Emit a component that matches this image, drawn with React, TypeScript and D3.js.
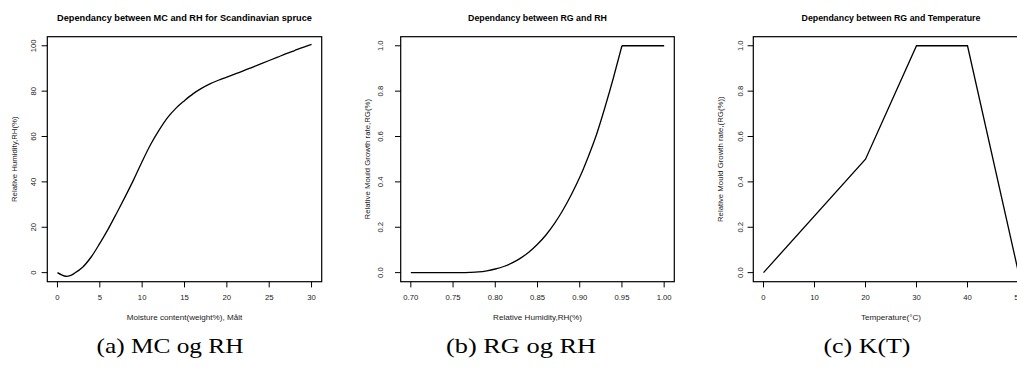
import React from "react";
import * as d3 from "d3";

// Panel (a): moisture content vs relative humidity
const mcValues = [0, 0.5, 1, 1.5, 2, 3, 4, 5, 6, 7, 8, 9, 10, 11, 12, 13, 14, 15, 16, 17, 18, 19, 20, 21, 22, 23, 24, 25, 26, 27, 28, 29, 30];
const rhValues = [0, -1.0, -1.6, -1.3, -0.3, 2.5, 7.0, 12.9, 19.3, 26.3, 33.5, 41.0, 49.0, 56.5, 62.8, 68.3, 72.5, 75.8, 78.8, 81.2, 83.2, 84.8, 86.2, 87.6, 89.0, 90.5, 92.0, 93.5, 95.0, 96.5, 97.9, 99.3, 100.6];
const mcTicks = [0, 5, 10, 15, 20, 25, 30];
const rhTicksA = [0, 20, 40, 60, 80, 100];

// Panel (b): relative humidity vs relative growth rate
const rhB = [0.70, 0.71, 0.72, 0.73, 0.74, 0.75, 0.76, 0.77, 0.78, 0.79, 0.80, 0.81, 0.82, 0.83, 0.84, 0.85, 0.86, 0.87, 0.88, 0.89, 0.90, 0.91, 0.92, 0.93, 0.94, 0.95, 1.00];
const rgB = [0, 0, 0, 0, 0, 0, 0.0001, 0.001, 0.003, 0.008, 0.016, 0.027, 0.043, 0.064, 0.091, 0.125, 0.166, 0.216, 0.275, 0.343, 0.42, 0.51, 0.61, 0.73, 0.86, 1.0, 1.0];
const rhTicksB = [0.70, 0.75, 0.80, 0.85, 0.90, 0.95, 1.00];
const rgTicks = [0, 0.2, 0.4, 0.6, 0.8, 1.0];

// Panel (c): temperature vs relative growth rate
const tempValues = [0, 20, 30, 40, 50];
const rgC = [0, 0.5, 1, 1, 0];
const tempTicks = [0, 10, 20, 30, 40, 50];

const titles = [
  "Dependancy between MC and RH for Scandinavian spruce",
  "Dependancy between RG and RH",
  "Dependancy between RG and Temperature",
];
const xLabels = ["Moisture content(weight%), Målt", "Relative Humidity,RH(%)", "Temperature(°C)"];
const yLabels = ["Relative Humidity,RH(%)", "Relative Mould Growth rate,RG(%)", "Relative Mould Growth rate,(RG(%))"];
const captions = ["(a) MC og RH", "(b) RG og RH", "(c) K(T)"];

type PanelProps = {
  left: number;
  right: number;
  xs: number[];
  ys: number[];
  smoothUntil: number; // index up to which the curve is smooth; rest straight
  xDomain: [number, number];
  yDomain: [number, number];
  xTicks: number[];
  yTicks: number[];
  xFmt: (v: number) => string;
  yFmt: (v: number) => string;
  title: string;
  titleSize: number;
  xLabel: string;
  yLabel: string;
  curve: d3.CurveFactory;
  tickOff: number;
};

const TOP = 36.7;
const BOTTOM = 281.7;
const SANS = "'Liberation Sans', Arial, sans-serif";
const TXT = "#1a1a1a";

function Panel(p: PanelProps) {
  const x = d3.scaleLinear().domain(p.xDomain).range([p.left, p.right]);
  const y = d3.scaleLinear().domain(p.yDomain).range([BOTTOM, TOP]);
  const pts: [number, number][] = p.xs.map((v, i) => [v, p.ys[i]]);
  const smooth = pts.slice(0, p.smoothUntil + 1);
  const straight = pts.slice(p.smoothUntil);
  const lineSmooth = d3
    .line<[number, number]>()
    .x((d) => x(d[0]))
    .y((d) => y(d[1]))
    .curve(p.curve);
  const lineStraight = d3
    .line<[number, number]>()
    .x((d) => x(d[0]))
    .y((d) => y(d[1]));
  const cx = (p.left + p.right) / 2;
  const cy = (TOP + BOTTOM) / 2;
  return (
    <g>
      <text x={cx} y={20.5} textAnchor="middle" fontFamily={SANS} fontWeight="bold" fontSize={p.titleSize} fill="#000">
        {p.title}
      </text>
      <rect x={p.left} y={TOP} width={p.right - p.left} height={BOTTOM - TOP} fill="none" stroke="#000" strokeWidth={1.2} />
      {p.xTicks.map((t) => (
        <g key={"x" + t}>
          <line x1={x(t)} x2={x(t)} y1={BOTTOM} y2={BOTTOM + 5.7} stroke="#000" strokeWidth={1} />
          <text x={x(t)} y={300} textAnchor="middle" fontFamily={SANS} fontSize={7.7} fill={TXT}>
            {p.xFmt(t)}
          </text>
        </g>
      ))}
      {p.yTicks.map((t) => (
        <g key={"y" + t}>
          <line x1={p.left - 5.7} x2={p.left} y1={y(t)} y2={y(t)} stroke="#000" strokeWidth={1} />
          <text
            transform={`translate(${p.left - p.tickOff},${y(t)}) rotate(-90)`}
            textAnchor="middle"
            fontFamily={SANS}
            fontSize={7.7}
            fill={TXT}
          >
            {p.yFmt(t)}
          </text>
        </g>
      ))}
      <text x={cx} y={319.5} textAnchor="middle" fontFamily={SANS} fontSize={8.1} fill={TXT}>
        {p.xLabel}
      </text>
      <text
        transform={`translate(${p.left - 30.5},${cy}) rotate(-90)`}
        textAnchor="middle"
        fontFamily={SANS}
        fontSize={7.8}
        fill={TXT}
      >
        {p.yLabel}
      </text>
      <path d={lineSmooth(smooth) || ""} fill="none" stroke="#000" strokeWidth={1.3} />
      {straight.length > 1 && <path d={lineStraight(straight) || ""} fill="none" stroke="#000" strokeWidth={1.3} />}
    </g>
  );
}

export default function App() {
  const f0 = d3.format("d");
  const f1 = d3.format(".1f");
  const f2 = d3.format(".2f");
  const capX = [170, 521, 867];
  const capLen = [147, 150, 87];
  return (
    <svg width={1017} height={371} style={{ position: "absolute", left: 0, top: 0, background: "#fff" }}>
      <rect x={0} y={0} width={1017} height={371} fill="#fff" />
      <Panel
        left={47.3}
        right={321.7}
        xs={mcValues}
        ys={rhValues}
        smoothUntil={mcValues.length - 1}
        xDomain={[-1.2, 31.2]}
        yDomain={[-4, 104]}
        xTicks={mcTicks}
        yTicks={rhTicksA}
        xFmt={f0}
        yFmt={f0}
        title={titles[0]}
        titleSize={9.2}
        xLabel={xLabels[0]}
        yLabel={yLabels[0]}
        curve={d3.curveCatmullRom.alpha(0.5)}
        tickOff={11}
      />
      <Panel
        left={400.7}
        right={674.3}
        xs={rhB}
        ys={rgB}
        smoothUntil={rhB.length - 2}
        xDomain={[0.688, 1.012]}
        yDomain={[-0.04, 1.04]}
        xTicks={rhTicksB}
        yTicks={rgTicks}
        xFmt={f2}
        yFmt={f1}
        title={titles[1]}
        titleSize={8.8}
        xLabel={xLabels[1]}
        yLabel={yLabels[1]}
        curve={d3.curveMonotoneX}
        tickOff={17.5}
      />
      <Panel
        left={753.3}
        right={1028.7}
        xs={tempValues}
        ys={rgC}
        smoothUntil={0}
        xDomain={[-2, 52]}
        yDomain={[-0.04, 1.04]}
        xTicks={tempTicks}
        yTicks={rgTicks}
        xFmt={f0}
        yFmt={f1}
        title={titles[2]}
        titleSize={8.8}
        xLabel={xLabels[2]}
        yLabel={yLabels[2]}
        curve={d3.curveLinear}
        tickOff={10.5}
      />
      {captions.map((c, i) => (
        <text
          key={c}
          x={capX[i]}
          y={353}
          textAnchor="middle"
          textLength={capLen[i]}
          lengthAdjust="spacingAndGlyphs"
          fontFamily="'Liberation Serif', 'DejaVu Serif', serif"
          fontSize={22}
          fill="#000"
        >
          {c}
        </text>
      ))}
    </svg>
  );
}
